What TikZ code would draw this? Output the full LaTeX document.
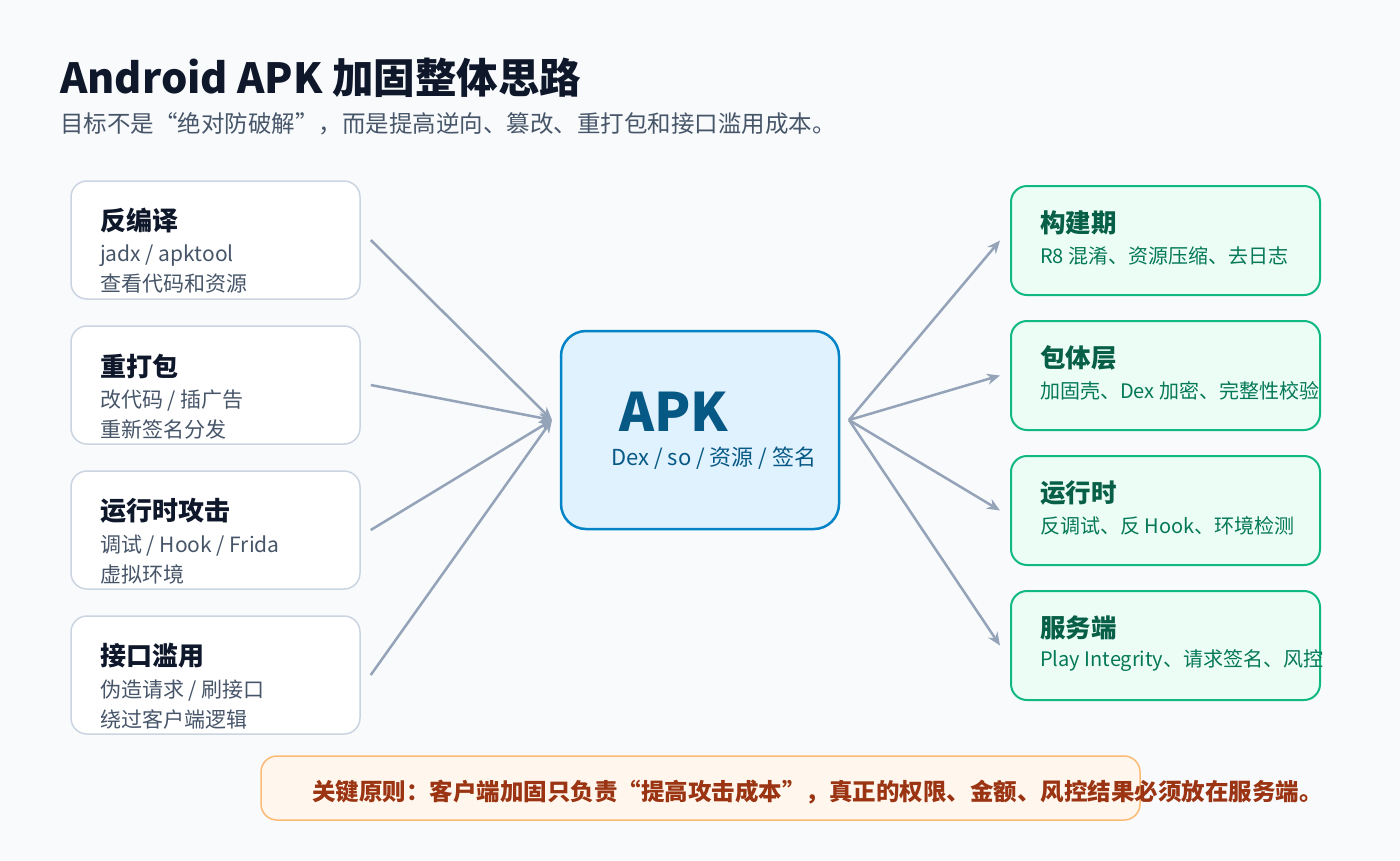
\documentclass[tikz,border=0pt]{standalone}
\usepackage{fontspec}
\setmainfont{Noto Sans CJK SC}
\usetikzlibrary{arrows.meta}
\definecolor{bg}{HTML}{F8FAFC}
\definecolor{lborder}{HTML}{CBD5E1}
\definecolor{ltitle}{HTML}{0F172A}
\definecolor{lsub}{HTML}{475569}
\definecolor{apkfill}{HTML}{E0F2FE}
\definecolor{apkborder}{HTML}{0284C7}
\definecolor{apktext}{HTML}{075985}
\definecolor{rfill}{HTML}{ECFDF5}
\definecolor{rborder}{HTML}{10B981}
\definecolor{rtitle}{HTML}{065F46}
\definecolor{rsub}{HTML}{047857}
\definecolor{nfill}{HTML}{FFF7ED}
\definecolor{nborder}{HTML}{FDBA74}
\definecolor{ntext}{HTML}{9A3412}
\definecolor{arrowc}{HTML}{94A3B8}
\definecolor{subtitlec}{HTML}{475569}
\begin{document}
\begin{tikzpicture}[x=1pt,y=-1pt,
  lbox/.style={draw=lborder,fill=white,line width=1.5pt,rounded corners=16pt,minimum width=289pt,minimum height=118pt,inner sep=0pt},
  rbox/.style={draw=rborder,fill=rfill,line width=2pt,rounded corners=16pt,minimum width=309pt,minimum height=109pt,inner sep=0pt},
  apkbox/.style={draw=apkborder,fill=apkfill,line width=2.5pt,rounded corners=25pt,minimum width=278pt,minimum height=198pt,inner sep=0pt},
  notebox/.style={draw=nborder,fill=nfill,line width=1.5pt,rounded corners=16pt,minimum width=879pt,minimum height=64pt,inner sep=0pt},
  txt/.style={anchor=west,inner sep=0pt},
  ltit/.style={txt,text=ltitle,font=\fontsize{26}{30}\selectfont\bfseries},
  lsubt/.style={txt,text=lsub,font=\fontsize{21}{25}\selectfont},
  rtit/.style={txt,text=rtitle,font=\fontsize{25.5}{30}\selectfont\bfseries},
  rsubt/.style={txt,text=rsub,font=\fontsize{20}{24}\selectfont},
  arr/.style={draw=arrowc,line width=2.5pt,-{Stealth[length=13pt,width=11pt]}}
]
\useasboundingbox (0,0) rectangle (1400,860);
\fill[bg] (0,0) rectangle (1400,860);

% Title
\node[txt,text=ltitle,font=\fontsize{41.5}{48}\selectfont\bfseries] (title) at (60,78) {Android APK 加固整体思路};
\node[txt,text=subtitlec,font=\fontsize{23.5}{28}\selectfont] (subtitle) at (60,124) {目标不是“绝对防破解”，而是提高逆向、篡改、重打包和接口滥用成本。};

% Left boxes
\node[lbox] (l1) at (215.5,240) {};
\node[lbox] (l2) at (215.5,385) {};
\node[lbox] (l3) at (215.5,530) {};
\node[lbox] (l4) at (215.5,675) {};

\node[ltit] (l1t) at (100,221) {反编译};
\node[lsubt] (l1a) at (100,256) {jadx / apktool};
\node[lsubt] (l1b) at (100,284) {查看代码和资源};

\node[ltit] (l2t) at (100,366) {重打包};
\node[lsubt] (l2a) at (100,401) {改代码 / 插广告};
\node[lsubt] (l2b) at (100,429) {重新签名分发};

\node[ltit] (l3t) at (100,511) {运行时攻击};
\node[lsubt] (l3a) at (100,546) {调试 / Hook / Frida};
\node[lsubt] (l3b) at (100,574) {虚拟环境};

\node[ltit] (l4t) at (100,656) {接口滥用};
\node[lsubt] (l4a) at (100,691) {伪造请求 / 刷接口};
\node[lsubt] (l4b) at (100,719) {绕过客户端逻辑};

% Center box
\node[apkbox] (apk) at (700,430) {};
\node[txt,text=apktext,font=\fontsize{53}{58}\selectfont\bfseries] (apkt) at (619,412) {APK};
\node[txt,text=apktext,font=\fontsize{22}{26}\selectfont] (apks) at (611,458) {Dex / so / 资源 / 签名};

% Right boxes
\node[rbox] (r1) at (1165.5,240.5) {};
\node[rbox] (r2) at (1165.5,375.5) {};
\node[rbox] (r3) at (1165.5,510.5) {};
\node[rbox] (r4) at (1165.5,645.5) {};

\node[rtit] (r1t) at (1040,223) {构建期};
\node[rsubt] (r1a) at (1040,256) {R8 混淆、资源压缩、去日志};
\node[rtit] (r2t) at (1040,358) {包体层};
\node[rsubt] (r2a) at (1040,391) {加固壳、Dex 加密、完整性校验};
\node[rtit] (r3t) at (1040,493) {运行时};
\node[rsubt] (r3a) at (1040,526) {反调试、反 Hook、环境检测};
\node[rtit] (r4t) at (1040,628) {服务端};
\node[rsubt] (r4a) at (1040,661) {Play Integrity、请求签名、风控};

% Arrows
\coordinate (apkL) at (552,420);
\coordinate (apkR) at (849,420);
\draw[arr] ([xshift=10pt]l1.east) -- (apkL);
\draw[arr] ([xshift=10pt]l2.east) -- (apkL);
\draw[arr] ([xshift=10pt]l3.east) -- (apkL);
\draw[arr] ([xshift=10pt]l4.east) -- (apkL);
\draw[arr] (apkR) -- ([xshift=-10pt]r1.west);
\draw[arr] (apkR) -- ([xshift=-10pt]r2.west);
\draw[arr] (apkR) -- ([xshift=-10pt]r3.west);
\draw[arr] (apkR) -- ([xshift=-10pt]r4.west);

% Note
\node[notebox] (note) at (700.5,788) {};
\node[txt,text=ntext,font=\fontsize{23.5}{28}\selectfont\bfseries] (notet) at (312,792) {关键原则：客户端加固只负责“提高攻击成本”，真正的权限、金额、风控结果必须放在服务端。};
\end{tikzpicture}
\end{document}
